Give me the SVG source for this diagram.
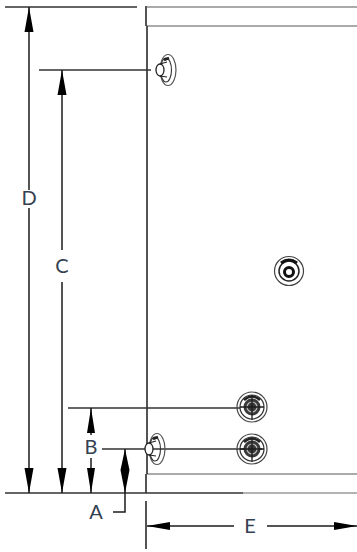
<svg xmlns="http://www.w3.org/2000/svg" width="357" height="552" viewBox="0 0 357 552">
<defs>
<style>
.d{stroke:#333;stroke-width:1.600;fill:none}
.k{stroke:#1c1c1c;stroke-width:1.500;fill:none}
.g{stroke:#aaa;stroke-width:2;fill:none}
.a{fill:#000;stroke:none}
.t{font-family:"Lato","Open Sans",sans-serif;font-size:20px;fill:#33404f;text-anchor:middle}
</style>
<g id="port"><circle r="15" fill="none" stroke="#444" stroke-width="1.200"/><circle r="12" fill="none" stroke="#333" stroke-width="1.200"/><circle r="8.500" fill="#3a3a3a"/><path d="M-8-7Q0-14 8-7" fill="none" stroke="#222" stroke-width="2.500"/><circle r="5" fill="none" stroke="#bbb" stroke-width="1.200"/><path d="M-12 0H12M0-12V13" stroke="#1c1c1c" stroke-width="1.300"/></g>
<g id="side"><ellipse cx="7" cy="0" rx="8" ry="15.500" fill="none" stroke="#555" stroke-width="1.200"/><ellipse cx="5" cy="0" rx="5.500" ry="12" fill="none" stroke="#333" stroke-width="1.100"/><ellipse cx="-1" cy="0" rx="4" ry="6" fill="#fff" stroke="#222" stroke-width="1.300"/><path d="M-1-6L6-8M-1 6L6 7" stroke="#222" stroke-width="1.100"/><path d="M3-10L8-12" stroke="#222" stroke-width="2.500"/></g>
</defs>
<rect width="357" height="552" fill="#fff"/>
<g id="tank">
<path class="g" d="M147 7H357M147 26H357M147 474H357"/>
<path class="k" d="M146 6V26M147 26V474M146 474V493"/>
<path d="M243 493H357" stroke="#999" stroke-width="1.500"/>
</g>
<g id="connectors">
<path class="d" d="M5 7H137M39 70H151M68 408H240M102 449H262M5 493H243"/>
<path class="k" d="M29 7V190M29 208V493M62 70V250M62 282V493M91 408V435M91 458V493M125 449V512H113M146 501V549M147 526H234M267 526H357"/>
<path class="a" d="M29 7L33.500 32H24.500ZM29 493L33.500 468H24.500ZM62 70L66.500 95H57.500ZM62 493L66.500 468H57.500ZM91 408L95 433H87ZM91 493L95 468H87ZM125 449L129.500 470L125 493L120.500 470ZM147 526L170 522V530ZM357 526L334 522V530Z"/>
</g>
<g id="fitting-top"><use href="#side" x="161" y="70"/></g>
<g id="fitting-bottom"><use href="#side" x="150" y="449"/></g>
<g id="port-right"><circle cx="289" cy="271" r="14.500" fill="none" stroke="#444" stroke-width="1.200"/><circle cx="289" cy="271" r="10" fill="none" stroke="#222" stroke-width="1.500"/><circle cx="289" cy="272" r="4.500" fill="none" stroke="#111" stroke-width="3"/><path d="M281 263Q289 257 297 263" stroke="#111" stroke-width="3" fill="none"/></g>
<g id="port-upper"><use href="#port" x="252" y="407"/></g>
<g id="port-lower"><use href="#port" x="252" y="449"/></g>
<g id="labels">
<text class="t" x="29" y="205">D</text>
<text class="t" x="62" y="273">C</text>
<text class="t" x="91" y="454">B</text>
<text class="t" x="96" y="519">A</text>
<text class="t" x="250" y="533">E</text>
</g>
</svg>
